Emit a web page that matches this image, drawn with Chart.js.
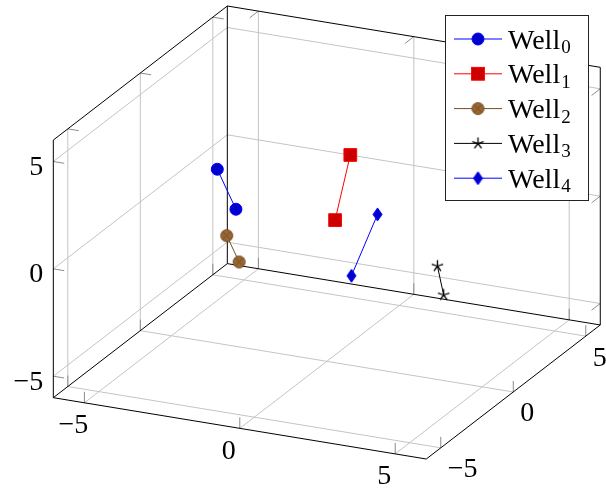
<!DOCTYPE html>
<html>
<head>
<meta charset="utf-8">
<script src="https://cdn.jsdelivr.net/npm/chart.js@4.4.1/dist/chart.umd.min.js"></script>
<style>
html, body { margin: 0; padding: 0; background: #fff; }
#wrap { width: 606px; height: 490px; }
</style>
</head>
<body>
<div id="wrap"><canvas id="chart" width="606" height="490"></canvas></div>
<script>
// Two samples per well (x, y, z)
const wellSubs = ['0', '1', '2', '3', '4'];
const wellX = [[-2.59, -1.99], [0.29, -0.20], [-1.82, -1.42], [2.16, 2.36], [0.70, -0.14]];
const wellY = [[-2, -2], [1, 1], [-3, -3], [3, 3], [2, 2]];
const wellZ = [[3.37, 1.65], [3.16, 0.01], [0.98, -0.15], [-2.61, -3.91], [-0.03, -3.09]];

const axisMin = -6, axisMax = 6;
const tickValues = [-5, 0, 5];
const tickLabels = ['\u22125', '0', '5'];

// view of the box (screen units per data unit)
const origin = [326.8, 232.5];
const ex = [31.08, 5.11], ey = [14.5, -11.17], ez = [0, -21.47];
const proj = (x, y, z) => ({
    x: origin[0] + x * ex[0] + y * ey[0] + z * ez[0],
    y: origin[1] + x * ex[1] + y * ey[1] + z * ez[1]
});
const gap = { x: null, y: null };
const lo = axisMin, hi = axisMax;

const seg = (a, b) => [proj(...a), proj(...b), gap];

// box edges: the three back walls
const edges = [
    seg([lo, hi, lo], [hi, hi, lo]), seg([lo, hi, hi], [hi, hi, hi]),
    seg([lo, hi, lo], [lo, hi, hi]), seg([hi, hi, lo], [hi, hi, hi]),
    seg([lo, lo, lo], [lo, hi, lo]), seg([lo, lo, hi], [lo, hi, hi]),
    seg([lo, lo, lo], [lo, lo, hi]),
    seg([lo, lo, lo], [hi, lo, lo]), seg([hi, lo, lo], [hi, hi, lo])
].flat();

const grid = tickValues.map(t => [
    seg([t, hi, lo], [t, hi, hi]), seg([lo, hi, t], [hi, hi, t]),
    seg([lo, t, lo], [lo, t, hi]), seg([lo, lo, t], [lo, hi, t]),
    seg([t, lo, lo], [t, hi, lo]), seg([lo, t, lo], [hi, t, lo])
].flat()).flat();

// short tick marks, 11px long
const tickSeg = (a, d) => {
    const p0 = proj(...a);
    const p1 = proj(a[0] + d[0], a[1] + d[1], a[2] + d[2]);
    const len = Math.hypot(p1.x - p0.x, p1.y - p0.y);
    return [p0, { x: p0.x + (p1.x - p0.x) * 11 / len, y: p0.y + (p1.y - p0.y) * 11 / len }, gap];
};
const ticks = tickValues.map(t => [
    tickSeg([t, lo, lo], [0, 0, 1]), tickSeg([t, hi, hi], [0, -1, 0]), tickSeg([t, hi, lo], [0, 0, 1]),
    tickSeg([hi, t, lo], [0, 0, 1]), tickSeg([lo, t, hi], [1, 0, 0]), tickSeg([lo, t, lo], [0, 0, 1]),
    tickSeg([lo, lo, t], [1, 0, 0]), tickSeg([hi, hi, t], [0, -1, 0])
].flat()).flat();

// custom marks
const markCanvas = (w, h, draw) => {
    const c = document.createElement('canvas');
    c.width = w; c.height = h;
    draw(c.getContext('2d'), w / 2, h / 2);
    return c;
};
const otimes = markCanvas(15, 15, (g, cx, cy) => {
    g.beginPath(); g.arc(cx, cy, 6, 0, Math.PI * 2);
    g.fillStyle = 'rgb(153,102,51)'; g.fill();
    g.strokeStyle = 'rgb(115,77,38)'; g.lineWidth = 1; g.stroke();
    const r = 4.2;
    g.beginPath();
    g.moveTo(cx - r, cy - r); g.lineTo(cx + r, cy + r);
    g.moveTo(cx - r, cy + r); g.lineTo(cx + r, cy - r);
    g.stroke();
});
const star = markCanvas(15, 15, (g, cx, cy) => {
    g.strokeStyle = '#000'; g.lineWidth = 1.3;
    g.beginPath();
    for (let k = 0; k < 5; k++) {
        const a = -Math.PI / 2 + k * 2 * Math.PI / 5;
        g.moveTo(cx, cy); g.lineTo(cx + 6 * Math.cos(a), cy + 6 * Math.sin(a));
    }
    g.stroke();
});
const diamond = markCanvas(11, 15, (g, cx, cy) => {
    g.beginPath();
    g.moveTo(cx, 1); g.lineTo(cx + 4.5, cy); g.lineTo(cx, 14); g.lineTo(cx - 4.5, cy);
    g.closePath();
    g.fillStyle = 'rgb(0,0,204)'; g.fill();
    g.strokeStyle = '#0000ff'; g.lineWidth = 1; g.stroke();
});

const wellStyles = [
    { line: '#0000ff', fill: 'rgb(0,0,204)', edge: '#0000ff', style: 'circle', radius: 6 },
    { line: '#ff0000', fill: 'rgb(204,0,0)', edge: '#ff0000', style: 'rect', radius: 9 },
    { line: 'rgb(115,77,38)', fill: 'rgb(153,102,51)', edge: 'rgb(115,77,38)', style: otimes, radius: 6 },
    { line: '#000000', fill: '#000', edge: '#000', style: star, radius: 6 },
    { line: '#0000ff', fill: 'rgb(0,0,204)', edge: '#0000ff', style: diamond, radius: 6 }
];

const wellSets = wellSubs.map((s, i) => ({
    label: 'Well' + s,
    data: wellX[i].map((x, j) => proj(x, wellY[i][j], wellZ[i][j])),
    showLine: true,
    borderColor: wellStyles[i].line,
    borderWidth: 1,
    pointStyle: wellStyles[i].style,
    pointRadius: wellStyles[i].radius,
    pointBackgroundColor: wellStyles[i].fill,
    pointBorderColor: wellStyles[i].edge,
    pointBorderWidth: 1,
    order: 0
}));

const lineSet = (data, color, order) => ({
    data, showLine: true, borderColor: color, borderWidth: 1, pointRadius: 0, order
});

const labelsPlugin = {
    id: 'tickLabels',
    afterDatasetsDraw(chart) {
        const { ctx, scales } = chart;
        const px = p => ({ x: scales.x.getPixelForValue(p.x), y: scales.y.getPixelForValue(p.y) });
        ctx.save();
        ctx.font = '28px "Liberation Serif"';
        ctx.fillStyle = '#000';
        ctx.textBaseline = 'alphabetic';
        tickValues.forEach((t, i) => {
            const txt = tickLabels[i];
            let p = px(proj(t, lo, lo));
            ctx.textAlign = 'center';
            ctx.fillText(txt, p.x - 11, p.y + 30.5);
            p = px(proj(hi, t, lo));
            ctx.textAlign = 'left';
            ctx.fillText(txt, p.x + 7, p.y + 29.5);
            p = px(proj(lo, lo, t));
            ctx.textAlign = 'right';
            ctx.fillText(txt, p.x - 10, p.y + 13.5);
        });
        ctx.restore();
    }
};

const legendPlugin = {
    id: 'wellLegend',
    afterDatasetsDraw(chart) {
        const ctx = chart.ctx;
        ctx.save();
        ctx.fillStyle = '#fff';
        ctx.fillRect(445.5, 15.5, 143, 185);
        ctx.strokeStyle = '#222';
        ctx.lineWidth = 1;
        ctx.strokeRect(445.5, 15.5, 143, 185);
        wellSubs.forEach((s, i) => {
            const st = wellStyles[i];
            const y = 39 + i * 34.8;
            ctx.strokeStyle = st.line;
            ctx.beginPath(); ctx.moveTo(454, y); ctx.lineTo(502, y); ctx.stroke();
            if (st.style === 'circle') {
                ctx.beginPath(); ctx.arc(478, y, 6, 0, Math.PI * 2);
                ctx.fillStyle = st.fill; ctx.fill(); ctx.strokeStyle = st.edge; ctx.stroke();
            } else if (st.style === 'rect') {
                ctx.fillStyle = st.fill; ctx.fillRect(471.6, y - 6.4, 12.8, 12.8);
                ctx.strokeStyle = st.edge; ctx.strokeRect(471.6, y - 6.4, 12.8, 12.8);
            } else {
                ctx.drawImage(st.style, 478 - st.style.width / 2, y - st.style.height / 2);
            }
            ctx.fillStyle = '#000';
            ctx.textAlign = 'left';
            ctx.textBaseline = 'alphabetic';
            ctx.font = '28px "Liberation Serif"';
            ctx.fillText('Well', 508, y + 9.5);
            const w = ctx.measureText('Well').width;
            ctx.font = '19px "Liberation Serif"';
            ctx.fillText(s, 508 + w + 1, y + 14);
        });
        ctx.restore();
    }
};

new Chart(document.getElementById('chart'), {
    type: 'scatter',
    data: {
        datasets: [
            ...wellSets,
            lineSet(edges, '#000000', 1),
            lineSet(ticks, '#8c8c8c', 2),
            lineSet(grid, '#c4c4c4', 3)
        ]
    },
    options: {
        responsive: false,
        animation: false,
        events: [],
        layout: { padding: 0, autoPadding: false },
        plugins: { legend: { display: false }, tooltip: { enabled: false } },
        scales: {
            x: { type: 'linear', display: false, min: 0, max: 606 },
            y: { type: 'linear', display: false, min: 0, max: 490, reverse: true }
        }
    },
    plugins: [labelsPlugin, legendPlugin]
});
</script>
</body>
</html>
